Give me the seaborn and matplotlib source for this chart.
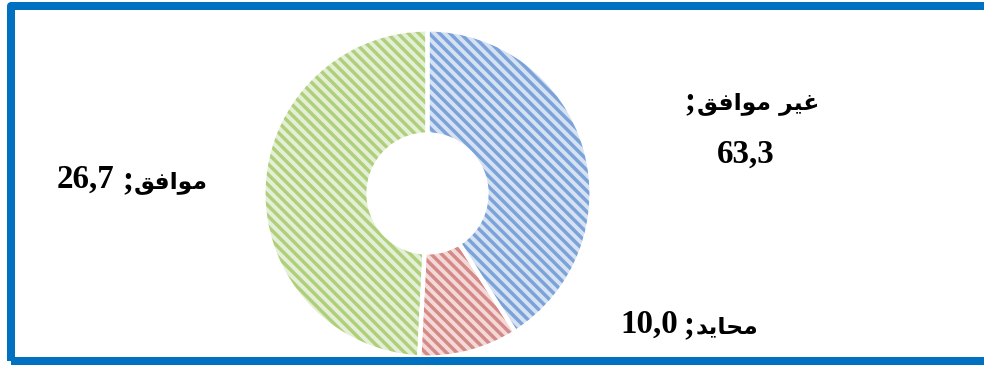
import re
import matplotlib
matplotlib.use("Agg")
import matplotlib.pyplot as plt
from matplotlib.patches import Rectangle
import seaborn as sns

# =======================
# Data
# =======================
categories = ["غير موافق", "محايد", "موافق"]
label_values = ["63,3", "10,0", "26,7"]          # numbers printed on the chart
slice_shares = [41.0, 9.8, 49.2]                 # slice sizes as drawn

face_colors = ["#d6e2f2", "#f3dad9", "#e5efd7"]
stripe_colors = ["#7ba3d9", "#d48a87", "#afd07a"]

DPI = 125
W, H = 984, 365

sns.set_theme(style="white")
plt.rcParams["hatch.linewidth"] = 2.0


# =======================
# Arabic shaping (matplotlib has no RTL / joining support)
# =======================
FORMS = {  # isolated, final, initial, medial
    "ا": ("\uFE8D", "\uFE8E", None, None),
    "ح": ("\uFEA1", "\uFEA2", "\uFEA3", "\uFEA4"),
    "د": ("\uFEA9", "\uFEAA", None, None),
    "ر": ("\uFEAD", "\uFEAE", None, None),
    "غ": ("\uFECD", "\uFECE", "\uFECF", "\uFED0"),
    "ف": ("\uFED1", "\uFED2", "\uFED3", "\uFED4"),
    "ق": ("\uFED5", "\uFED6", "\uFED7", "\uFED8"),
    "م": ("\uFEE1", "\uFEE2", "\uFEE3", "\uFEE4"),
    "و": ("\uFEED", "\uFEEE", None, None),
    "ي": ("\uFEF1", "\uFEF2", "\uFEF3", "\uFEF4"),
}


def shape(s):
    out = []
    for i, ch in enumerate(s):
        if ch not in FORMS:
            out.append(ch)
            continue
        prev = s[i - 1] if i > 0 else ""
        nxt = s[i + 1] if i + 1 < len(s) else ""
        join_prev = prev in FORMS and FORMS[prev][2] is not None
        join_next = nxt in FORMS and FORMS[ch][2] is not None
        iso, fin, ini, med = FORMS[ch]
        if join_prev and join_next:
            out.append(med)
        elif join_prev:
            out.append(fin)
        elif join_next:
            out.append(ini)
        else:
            out.append(iso)
    return "".join(out)


def rtl(s):
    tokens = re.findall(r"[0-9][0-9,\.]*|.", shape(s))
    return "".join(reversed(tokens))


# =======================
# Figure
# =======================
fig = plt.figure(figsize=(W / DPI, H / DPI), dpi=DPI)
fig.patch.set_facecolor("white")

cx, cy, r = 427.5, 193.5, 164
ax = fig.add_axes([(cx - r) / W, (H - cy - r) / H, 2 * r / W, 2 * r / H])

ring = dict(width=0.64)
common = dict(startangle=90, counterclock=False, radius=1)

# base fill
wedges, _ = ax.pie(slice_shares, colors=face_colors, wedgeprops=dict(linewidth=0, **ring), **common)
# stripes
hatch_w, _ = ax.pie(slice_shares, wedgeprops=dict(linewidth=0, fill=False, **ring), **common)
for w, c in zip(hatch_w, stripe_colors):
    w.set_hatch("\\\\\\\\")
    w.set_edgecolor(c)
# white separators
edge_w, _ = ax.pie(slice_shares, wedgeprops=dict(linewidth=2.4, edgecolor="white", fill=False, **ring), **common)
for w in wedges + hatch_w + edge_w:
    w.set_clip_on(False)

ax.set_xlim(-1, 1)
ax.set_ylim(-1, 1)
ax.set_aspect("auto")
ax.axis("off")

# =======================
# Labels
# =======================
arabic_font = dict(family=["DejaVu Sans"], fontweight="bold", fontsize=13.5, color="black")
number_font = dict(family="Liberation Serif", fontweight="bold", fontsize=19, color="black")
renderer = fig.canvas.get_renderer()


def put(text, x, y, ha, style):
    return fig.text(x / W, 1 - y / H, text, ha=ha, va="baseline", **style)


def width(t):
    return t.get_window_extent(renderer).width


def arabic_label(word, right_x, y, center_x=None, gap=1):
    """Arabic word with its semicolon on the left (RTL order); returns left edge."""
    t = put(rtl(word), right_x, y, "right", arabic_font)
    s = put(";", 0, y, "right", number_font)
    if center_x is not None:
        total = width(t) + gap + width(s)
        right_x = center_x + total / 2
        t.set_x(right_x / W)
    s.set_x((right_x - width(t) - gap) / W)
    return right_x - width(t) - gap - width(s)


# غير موافق
arabic_label(categories[0], 0, 109, center_x=752)
put(label_values[0], 746, 163, "center", number_font)
# محايد
left = arabic_label(categories[1], 758, 333)
put(label_values[1], left - 5, 333, "right", number_font)
# موافق
left = arabic_label(categories[2], 208, 188)
put(label_values[2], left - 8, 188, "right", number_font)

# blue frame around the chart area
frame = Rectangle((11 / W, 1 - 361 / H), 1.2, (361 - 5.5) / H, transform=fig.transFigure,
                  fill=False, edgecolor="#0070c0", linewidth=8 * 72 / DPI, joinstyle="round", zorder=10)
fig.add_artist(frame)

fig.savefig("out.png", dpi=DPI)
